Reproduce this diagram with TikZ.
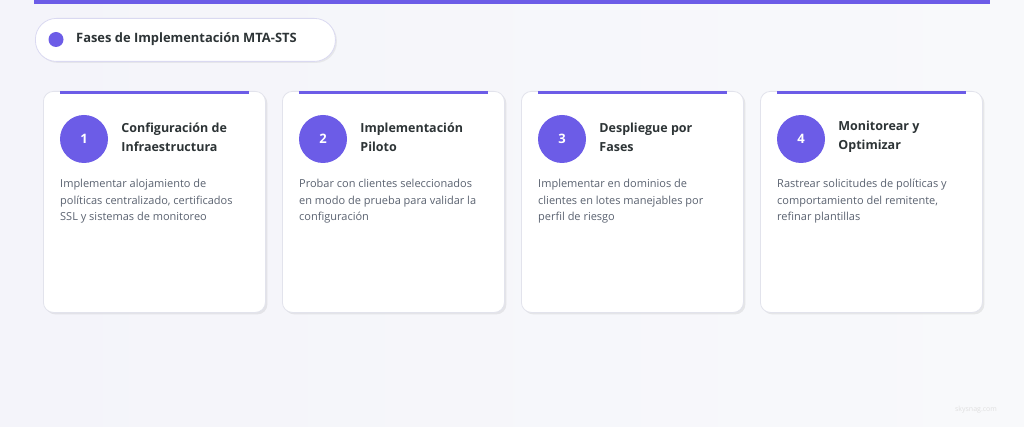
\documentclass[tikz,border=0pt]{standalone}
\usepackage{fontspec}
\setmainfont{Open Sans}
\usetikzlibrary{positioning,shadows}
\definecolor{accent}{HTML}{6C5CE7}
\definecolor{ink}{HTML}{2D3436}
\definecolor{greytext}{HTML}{5A6270}
\definecolor{cardline}{HTML}{E2E3EC}
\definecolor{bgleft}{HTML}{F4F4FA}
\definecolor{bgright}{HTML}{F8F9FB}
\tikzset{
  card/.style={
           rectangle,
           rounded corners=10pt,
           draw=cardline, thick,
           fill=white,
           minimum width=222pt,
           minimum height=221pt,
           anchor=north west,
           drop shadow={shadow xshift=2pt, shadow yshift=-2pt,
             fill=black!60, opacity=0.12}},
  pill/.style={
           rectangle,
           rounded corners=21pt,
           draw=cardline!80!accent!70, thick,
           fill=white,
           minimum width=300pt,
           minimum height=43pt,
           anchor=north west,
           drop shadow={shadow xshift=1.5pt, shadow yshift=-1.5pt,
             fill=black!60, opacity=0.10}},
  num/.style={circle, fill=accent, minimum size=48pt, inner sep=0pt,
    text=white, font=\fontsize{13}{15}\selectfont\bfseries},
  phase/.style={anchor=west, align=left, inner sep=0pt, text=ink,
    font=\fontsize{12.5}{19}\selectfont\bfseries},
  desc/.style={anchor=north west, align=left, inner sep=0pt, text=greytext,
    font=\fontsize{11}{16.5}\selectfont},
  topbar/.style={fill=accent}
}
\begin{document}
\begin{tikzpicture}[x=1pt,y=-1pt]
  \useasboundingbox (0,0) rectangle (1024,427);
  \shade[left color=bgleft, right color=bgright] (0,0) rectangle (1024,427);
  \fill[topbar] (34,0) rectangle (990,4);
  % titulo
  \node[pill] (head) at (35,18) {};
  \node[circle, fill=accent, minimum size=15pt, inner sep=0pt] (dot) at (56,39.5) {};
  \node[anchor=west, inner sep=0pt, text=ink, font=\fontsize{12.9}{15}\selectfont\bfseries]
    (headtxt) at (76,39.5) {Fases de Implementación MTA-STS};
  % tarjetas
  \node[card] (c1) at (43,91) {};
  \node[card] (c2) at (282,91) {};
  \node[card] (c3) at (521,91) {};
  \node[card] (c4) at (760,91) {};
  \fill[topbar] ([xshift=17pt]c1.north west) rectangle ([xshift=-17pt,yshift=-3.5pt]c1.north east);
  \fill[topbar] ([xshift=17pt]c2.north west) rectangle ([xshift=-17pt,yshift=-3.5pt]c2.north east);
  \fill[topbar] ([xshift=17pt]c3.north west) rectangle ([xshift=-17pt,yshift=-3.5pt]c3.north east);
  \fill[topbar] ([xshift=17pt]c4.north west) rectangle ([xshift=-17pt,yshift=-3.5pt]c4.north east);
  \node[num] (n1) at (84,139) {1};
  \node[num] (n2) at (323,139) {2};
  \node[num] (n3) at (562,139) {3};
  \node[num] (n4) at (801,139) {4};
  \node[phase, right=13pt of n1, yshift=2pt] (t1) {Configuración de\\Infraestructura};
  \node[phase, right=13pt of n2, yshift=2pt] (t2) {Implementación\\Piloto};
  \node[phase, right=13pt of n3, yshift=2pt] (t3) {Despliegue por\\Fases};
  \node[phase, right=13pt of n4, yshift=2pt] (t4) {Monitorear y\\Optimizar};
  \node[desc] (d1) at (60,179) {Implementar alojamiento de\\políticas centralizado, certificados\\SSL y sistemas de monitoreo};
  \node[desc] (d2) at (299,179) {Probar con clientes seleccionados\\en modo de prueba para validar la\\configuración};
  \node[desc] (d3) at (538,179) {Implementar en dominios de\\clientes en lotes manejables por\\perfil de riesgo};
  \node[desc] (d4) at (777,179) {Rastrear solicitudes de políticas y\\comportamiento del remitente,\\refinar plantillas};
  \node[text=black!12, font=\fontsize{7}{8}\selectfont] (mark) at (976,410) {skysnag.com};
\end{tikzpicture}
\end{document}
